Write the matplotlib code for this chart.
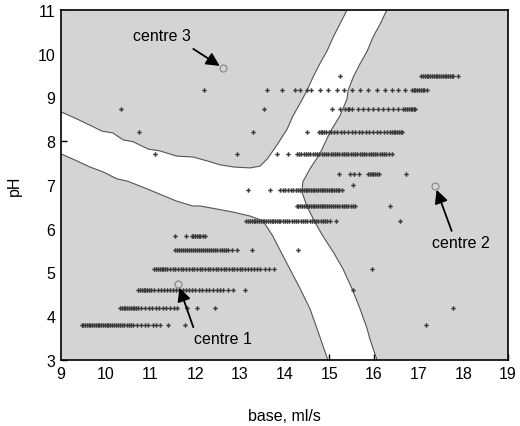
import numpy as np
import matplotlib.pyplot as plt

plt.rcParams['font.family'] = ['Liberation Sans', 'DejaVu Sans']

# boundary curves of the white (unassigned) band
a_x = [9.00, 9.27, 9.54, 9.92, 10.16, 10.39, 10.61, 10.95, 11.21, 11.59, 11.95, 12.27, 12.56, 12.87,
       13.23, 13.45, 13.61, 13.83, 14.06, 14.19, 14.35, 14.50, 14.64, 14.79, 14.95, 15.09, 15.24, 15.40]
a_y = [8.67, 8.55, 8.42, 8.23, 8.19, 8.03, 7.99, 7.82, 7.78, 7.66, 7.64, 7.55, 7.46, 7.41,
       7.39, 7.43, 7.59, 7.91, 8.28, 8.58, 8.87, 9.15, 9.47, 9.77, 10.06, 10.38, 10.68, 11.0]
b_x = [16.29, 16.14, 15.98, 15.85, 15.69, 15.54, 15.42, 15.40, 15.24, 15.02, 14.79, 14.57, 14.41,
       14.39, 14.50, 14.68, 14.86, 15.09, 15.31, 15.51, 15.69, 15.85, 15.91, 16.07]
b_y = [11.0, 10.68, 10.38, 10.06, 9.77, 9.47, 9.15, 8.97, 8.58, 8.21, 7.71, 7.37, 7.07,
       6.84, 6.52, 6.15, 5.83, 5.47, 5.08, 4.63, 4.17, 3.71, 3.48, 3.0]
c_x = [9.00, 9.27, 9.65, 9.94, 10.25, 10.48, 10.83, 11.21, 11.59, 11.95, 12.11, 12.49, 12.85,
       13.23, 13.52, 13.74, 13.90, 14.12, 14.35, 14.57, 14.73, 14.97]
c_y = [7.71, 7.59, 7.41, 7.30, 7.14, 7.09, 6.95, 6.79, 6.63, 6.52, 6.52, 6.45, 6.38,
       6.29, 6.18, 5.83, 5.51, 5.08, 4.63, 4.17, 3.71, 3.0]

# measured points, one list per pH row
ph_rows = [3.81, 4.19, 4.60, 5.08, 5.51, 5.84, 6.18, 6.52, 6.89, 7.0, 7.25, 7.71, 8.20, 8.74, 9.17, 9.50]
x_381 = [9.46, 9.50, 9.54, 9.58, 9.62, 9.66, 9.70, 9.74, 9.78, 9.82, 9.86, 9.90, 9.94, 9.98, 10.02,
         10.06, 10.10, 10.14, 10.18, 10.22, 10.27, 10.32, 10.37, 10.42, 10.47, 10.52, 10.57, 10.62,
         10.70, 10.78, 10.88, 10.95, 11.05, 11.12, 11.21, 11.40, 11.77, 17.16]
x_419 = [10.32, 10.36, 10.40, 10.44, 10.48, 10.52, 10.56, 10.60, 10.64, 10.68, 10.73, 10.80, 10.88,
         10.96, 11.04, 11.12, 11.20, 11.28, 11.36, 11.44, 11.52, 11.59, 11.81, 12.05, 12.45, 17.78]
x_460 = [10.73, 10.77, 10.81, 10.85, 10.89, 10.93, 10.97, 11.02, 11.09, 11.16, 11.23, 11.30, 11.37,
         11.44, 11.51, 11.58, 11.65, 11.72, 11.79, 11.86, 11.93, 12.00, 12.08, 12.16, 12.24, 12.32,
         12.40, 12.48, 12.56, 12.63, 12.74, 12.85, 13.12, 15.53]
x_508 = [11.09, 11.13, 11.17, 11.21, 11.25, 11.29, 11.33, 11.38, 11.44, 11.50, 11.56, 11.62, 11.68,
         11.74, 11.80, 11.86, 11.92, 11.98, 12.04, 12.10, 12.16, 12.22, 12.28, 12.34, 12.40, 12.46,
         12.52, 12.58, 12.64, 12.70, 12.76, 12.82, 12.88, 12.94, 13.00, 13.06, 13.12, 13.18, 13.24,
         13.31, 13.38, 13.45, 13.56, 13.66, 13.77, 15.95]
x_551 = [11.55, 11.60, 11.64, 11.69, 11.73, 11.78, 11.82, 11.87, 11.91, 11.96, 12.00, 12.05, 12.09,
         12.14, 12.18, 12.23, 12.27, 12.32, 12.36, 12.41, 12.45, 12.50, 12.55, 12.60, 12.65, 12.70,
         12.74, 12.82, 12.93, 13.27, 14.31]
x_584 = [11.55, 11.80, 11.92, 11.96, 12.00, 12.04, 12.08, 12.12, 12.17, 12.22]
x_618 = [13.15, 13.19, 13.23, 13.27, 13.31, 13.35, 13.39, 13.43, 13.47, 13.51, 13.55, 13.59, 13.63,
         13.67, 13.71, 13.75, 13.79, 13.83, 13.87, 13.91, 13.96, 14.01, 14.06, 14.11, 14.16, 14.21,
         14.26, 14.31, 14.36, 14.41, 14.46, 14.51, 14.56, 14.61, 14.66, 14.71, 14.76, 14.81, 14.86,
         14.91, 14.96, 15.02, 15.15, 16.58]
x_652 = [14.27, 14.31, 14.35, 14.39, 14.43, 14.47, 14.51, 14.55, 14.59, 14.63, 14.67, 14.71, 14.75,
         14.79, 14.83, 14.87, 14.91, 14.95, 14.99, 15.03, 15.08, 15.13, 15.18, 15.23, 15.28, 15.33,
         15.38, 15.43, 15.48, 15.53, 15.57, 16.36]
x_689 = [13.19, 13.68, 13.90, 13.96, 14.02, 14.08, 14.14, 14.20, 14.26, 14.31, 14.35, 14.39, 14.43,
         14.47, 14.51, 14.55, 14.59, 14.63, 14.67, 14.71, 14.75, 14.79, 14.83, 14.87, 14.91, 14.95,
         14.99, 15.03, 15.07, 15.11, 15.15, 15.19, 15.23, 15.28]
x_700 = [15.54]
x_725 = [15.21, 15.46, 15.56, 15.66, 15.87, 15.91, 15.95, 15.99, 16.03, 16.07, 16.11, 16.72]
x_771 = [11.10, 12.94, 13.83, 14.08, 14.28, 14.33, 14.38, 14.43, 14.48, 14.53, 14.58, 14.63, 14.68,
         14.73, 14.78, 14.83, 14.88, 14.93, 14.98, 15.03, 15.08, 15.13, 15.18, 15.23, 15.28, 15.33,
         15.38, 15.43, 15.48, 15.53, 15.58, 15.63, 15.68, 15.73, 15.78, 15.83, 15.88, 15.93, 15.98,
         16.03, 16.08, 16.13, 16.18, 16.23, 16.28, 16.33, 16.40]
x_820 = [10.75, 13.30, 14.50, 14.77, 14.81, 14.85, 14.89, 14.93, 15.00, 15.05, 15.10, 15.18, 15.26,
         15.34, 15.42, 15.50, 15.58, 15.66, 15.74, 15.82, 15.90, 15.98, 16.06, 16.14, 16.22, 16.30,
         16.36, 16.40, 16.44, 16.48, 16.52, 16.56, 16.60, 16.63]
x_874 = [10.34, 13.54, 15.06, 15.24, 15.36, 15.41, 15.45, 15.51, 15.65, 15.76, 15.87, 15.98, 16.09,
         16.20, 16.32, 16.43, 16.54, 16.66, 16.70, 16.74, 16.78, 16.82, 16.86, 16.90, 16.93]
x_917 = [12.20, 13.61, 13.94, 14.24, 14.35, 14.51, 14.59, 14.79, 14.98, 15.17, 15.34, 15.50, 15.69,
         15.87, 16.06, 16.25, 16.40, 16.55, 16.70, 16.85, 16.89, 16.93, 16.97, 17.01, 17.05, 17.09,
         17.13, 17.18]
x_950 = [15.24, 17.06, 17.10, 17.14, 17.18, 17.22, 17.26, 17.30, 17.34, 17.38, 17.42, 17.46, 17.50,
         17.54, 17.58, 17.62, 17.66, 17.70, 17.74, 17.77, 17.88]
row_x = [x_381, x_419, x_460, x_508, x_551, x_584, x_618, x_652, x_689, x_700, x_725, x_771,
         x_820, x_874, x_917, x_950]

# cluster centres, their labels and where the arrows start
centre_x = [11.62, 17.37, 12.63]
centre_y = [4.74, 6.98, 9.67]
centre_labels = ['centre 1', 'centre 2', 'centre 3']
label_x = [12.62, 17.95, 11.25]
label_y = [3.48, 5.69, 10.42]
arrow_x = [11.96, 17.74, 11.96]
arrow_y = [3.75, 5.95, 10.11]

fig = plt.figure(figsize=(5.2, 4.27), dpi=100)
ax = fig.add_axes([0.1173, 0.1546, 0.8596, 0.8197])

gray = '#d4d4d4'
ax.fill(a_x + [9.0], a_y + [11.0], color=gray, lw=0, zorder=1)
ax.fill(b_x + [19.0, 19.0], b_y + [3.0, 11.0], color=gray, lw=0, zorder=1)
ax.fill(c_x + [9.0], c_y + [3.0], color=gray, lw=0, zorder=1)
for bx, by in [(a_x, a_y), (b_x, b_y), (c_x, c_y)]:
    ax.plot(bx, by, color='#555555', lw=0.8, zorder=2)

px = np.concatenate(row_x)
py = np.concatenate([[p] * len(r) for p, r in zip(ph_rows, row_x)])
ax.plot(px, py, 'P', ms=3.2, color='#3a3a3a', mew=0, zorder=3)

ax.plot(centre_x, centre_y, 'o', ms=5, mfc='none', mec='#8a8a8a', mew=0.9, zorder=4)
for cx, cy, lab, lx, ly, sx, sy in zip(centre_x, centre_y, centre_labels, label_x, label_y,
                                       arrow_x, arrow_y):
    ax.text(lx, ly, lab, fontsize=11.5, ha='center', va='center', zorder=5)
    ax.annotate('', xy=(cx, cy), xytext=(sx, sy),
                arrowprops=dict(arrowstyle='-|>', color='black', lw=1.3, mutation_scale=20,
                                shrinkA=0, shrinkB=3), zorder=5)

ax.set_axisbelow(True)
ax.set_xlim(9, 19)
ax.set_ylim(3, 11)
ax.set_xticks(range(9, 20))
ax.set_yticks(range(3, 12))
ax.tick_params(direction='in', length=4, width=1, labelsize=11.5, pad=4)
for s in ax.spines.values():
    s.set_linewidth(1.2)
    s.set_zorder(6)
ax.set_xlabel('base, ml/s', fontsize=11.5, labelpad=20)
ax.set_ylabel('pH', fontsize=11.5, labelpad=11)

fig.savefig('out.png', dpi=100)
